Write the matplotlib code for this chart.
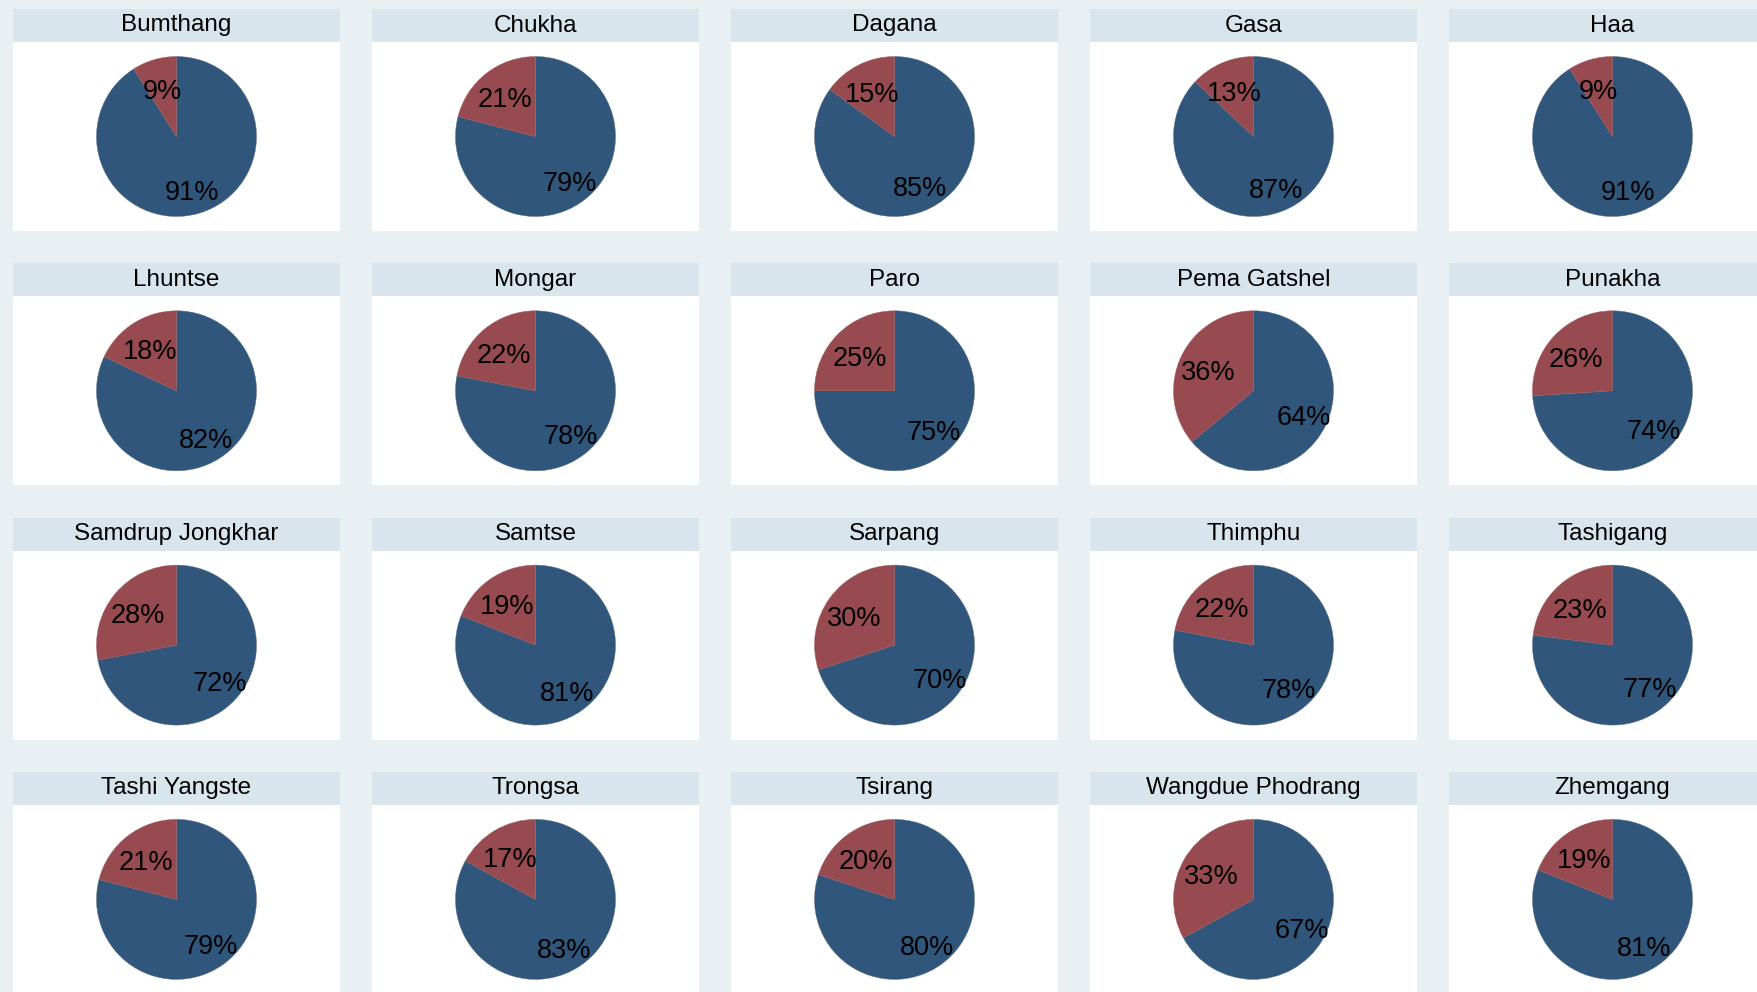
import matplotlib
matplotlib.use("Agg")
import matplotlib.pyplot as plt
import numpy as np

# share of each district (blue = larger, red = smaller)
districts = ["Bumthang", "Chukha", "Dagana", "Gasa", "Haa",
             "Lhuntse", "Mongar", "Paro", "Pema Gatshel", "Punakha",
             "Samdrup Jongkhar", "Samtse", "Sarpang", "Thimphu", "Tashigang",
             "Tashi Yangste", "Trongsa", "Tsirang", "Wangdue Phodrang", "Zhemgang"]
pct_blue = [91, 79, 85, 87, 91,
            82, 78, 75, 64, 74,
            72, 81, 70, 78, 77,
            79, 83, 80, 67, 81]
pct_red = [9, 21, 15, 13, 9,
           18, 22, 25, 36, 26,
           28, 19, 30, 22, 23,
           21, 17, 20, 33, 19]

plt.rcParams['font.family'] = ['Liberation Sans', 'DejaVu Sans']

W, H = 1758, 992
bg = "#E8F0F3"
band = "#D9E5EC"
c_blue = "#30577B"
c_red = "#974A4F"

fig = plt.figure(figsize=(W / 100, H / 100), dpi=100, facecolor=bg)

# panel layout in pixels
x0, y0 = 13, 9
dx, dy = 359, 254.3
pw = 327
band_h = 33
plot_h = 189
rad = 80.0

def frac(x, y, w, h):
    return [x / W, 1 - (y + h) / H, w / W, h / H]

for i, name in enumerate(districts):
    r, c = divmod(i, 5)
    px = x0 + c * dx
    py = y0 + r * dy

    # title strip
    tax = fig.add_axes(frac(px, py, pw, band_h))
    tax.set_facecolor(band)
    tax.set_xticks([]); tax.set_yticks([])
    for s in tax.spines.values():
        s.set_visible(False)
    tax.text(0.5, 0.5, name, ha="center", va="center", fontsize=17.5,
             transform=tax.transAxes)

    # pie area
    ax = fig.add_axes(frac(px, py + band_h, pw, plot_h))
    wedges, _ = ax.pie([pct_blue[i], pct_red[i]], colors=[c_blue, c_red],
                       startangle=90, counterclock=False, radius=1,
                       wedgeprops=dict(edgecolor="#5a6f80", linewidth=0.3))
    wedges[1].set_edgecolor("#a05a5e")
    ax.set_frame_on(True)
    ax.set_facecolor("white")
    for s in ax.spines.values():
        s.set_visible(False)
    ax.set_xticks([]); ax.set_yticks([])
    ax.set_xlim(-pw / 2 / rad, pw / 2 / rad)
    ax.set_ylim(-plot_h / 2 / rad, plot_h / 2 / rad)
    ax.set_aspect("auto")

    # percent labels
    for w, val, d in zip(wedges, [pct_blue[i], pct_red[i]], [0.70, 0.62]):
        mid = np.deg2rad((w.theta1 + w.theta2) / 2)
        ax.text(d * np.cos(mid), d * np.sin(mid), f"{val}%",
                ha="center", va="center_baseline", fontsize=19.5, color="black")

fig.savefig("out.png", dpi=100, facecolor=bg)
